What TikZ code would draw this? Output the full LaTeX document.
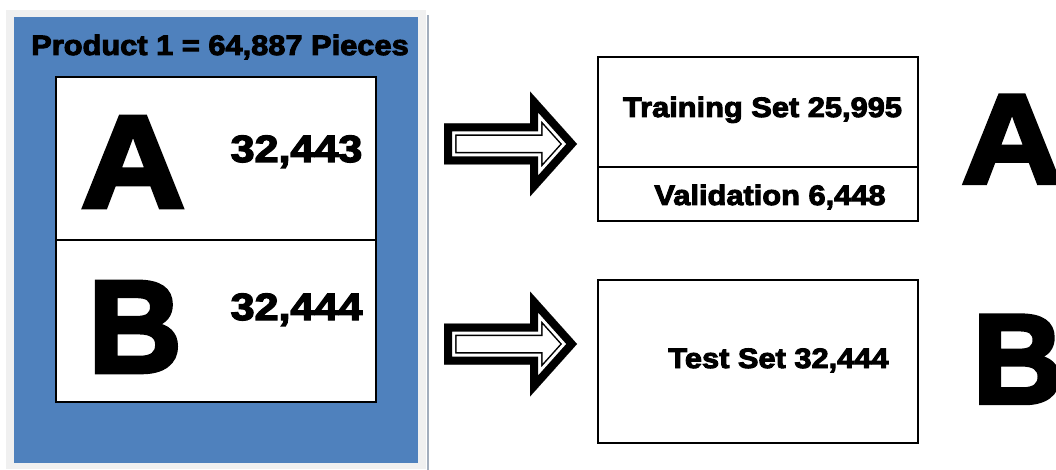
\documentclass[tikz,border=0pt]{standalone}
\usepackage{fontspec}
\setmainfont{Liberation Sans}[FakeStretch=1.1, BoldFeatures={FakeBold=3.5}]
\usepackage{tikz}
\usetikzlibrary{positioning}
\definecolor{azulPainel}{HTML}{4F81BD}
\definecolor{cinzaMoldura}{HTML}{F0F0F0}
\definecolor{cinzaSombra}{HTML}{A3AEBD}
\tikzset{
    caixa/.style={
        rectangle,
        draw,
        fill=white,
        line width=1.6pt,
        inner sep=0pt,
        outer sep=0pt
    },
    rotulo/.style={font=\fontsize{28}{30}\selectfont\bfseries, inner sep=0pt, anchor=base},
    numero/.style={font=\fontsize{38}{40}\selectfont\bfseries, inner sep=0pt, anchor=base, xscale=1.03, transform shape},
    letra/.style={font=\fontsize{131}{131}\selectfont\bfseries, inner sep=0pt, anchor=base},
    letraDireita/.style={letra, font=\fontsize{127}{127}\selectfont\bfseries},
    estreita/.style={xscale=0.9, transform shape},
    contorno/.style={line join=miter}
}
\newcommand{\formaSeta}{(444,-20.5) -- (530,-20.5) -- (530,-52.5) -- (577,0) -- (530,52.5) -- (530,20.5) -- (444,20.5) -- cycle}

\begin{document}
\begin{tikzpicture}[x=1pt, y=-1pt]
    \useasboundingbox (0,0) rectangle (1056,470);
    \clip (0,0) rectangle (1056,470);
    \fill[white] (0,0) rectangle (1056,470);

    % painel do produto
    \fill[cinzaMoldura] (6,10) rectangle (426,469);
    \fill[cinzaSombra] (426.5,15) rectangle (428.5,470);
    \node[fill=azulPainel, minimum width=404pt, minimum height=446pt, inner sep=0pt, anchor=north west] (painel) at (14,17) {};
    \node[rotulo] (titulo) at (220,55) {Product 1 = 64,887 Pieces};
    \node[caixa, minimum width=320pt, minimum height=163pt, anchor=north west] (caixaA) at (56,77) {};
    \node[caixa, minimum width=320pt, minimum height=162pt, below=0pt of caixaA] (caixaB) {};
    \node[letra] (letraA) at (133,207) {A};
    \node[numero] (numA) at (296.5,162) {32,443};
    \node[letra, estreita] (letraB) at (135,372) {B};
    \node[numero] (numB) at (296.5,320) {32,444};

    % setas
    \foreach \yc in {144,344}{
        \begin{scope}[shift={(0,\yc)}]
            \clip \formaSeta;
            \fill[white] \formaSeta;
            \draw[contorno, line width=25pt] \formaSeta;
            \draw[contorno, white, line width=22pt] \formaSeta;
            \draw[contorno, line width=16pt] \formaSeta;
        \end{scope}
    }

    % conjuntos
    \node[caixa, minimum width=320pt, minimum height=110pt, anchor=north west] (treino) at (598,57) {};
    \node[caixa, minimum width=320pt, minimum height=54pt, below=0pt of treino] (validacao) {};
    \node[caixa, minimum width=320pt, minimum height=163pt, anchor=north west] (teste) at (598,280) {};
    \node[rotulo] (txtTreino) at (762.5,117) {Training Set 25,995};
    \node[rotulo] (txtValidacao) at (770,205) {Validation 6,448};
    \node[rotulo] (txtTeste) at (778.5,368) {Test Set 32,444};
    \node[letraDireita] (letraA2) at (1012,183) {A};
    \node[letraDireita, estreita] (letraB2) at (1018,403) {B};
\end{tikzpicture}
\end{document}
